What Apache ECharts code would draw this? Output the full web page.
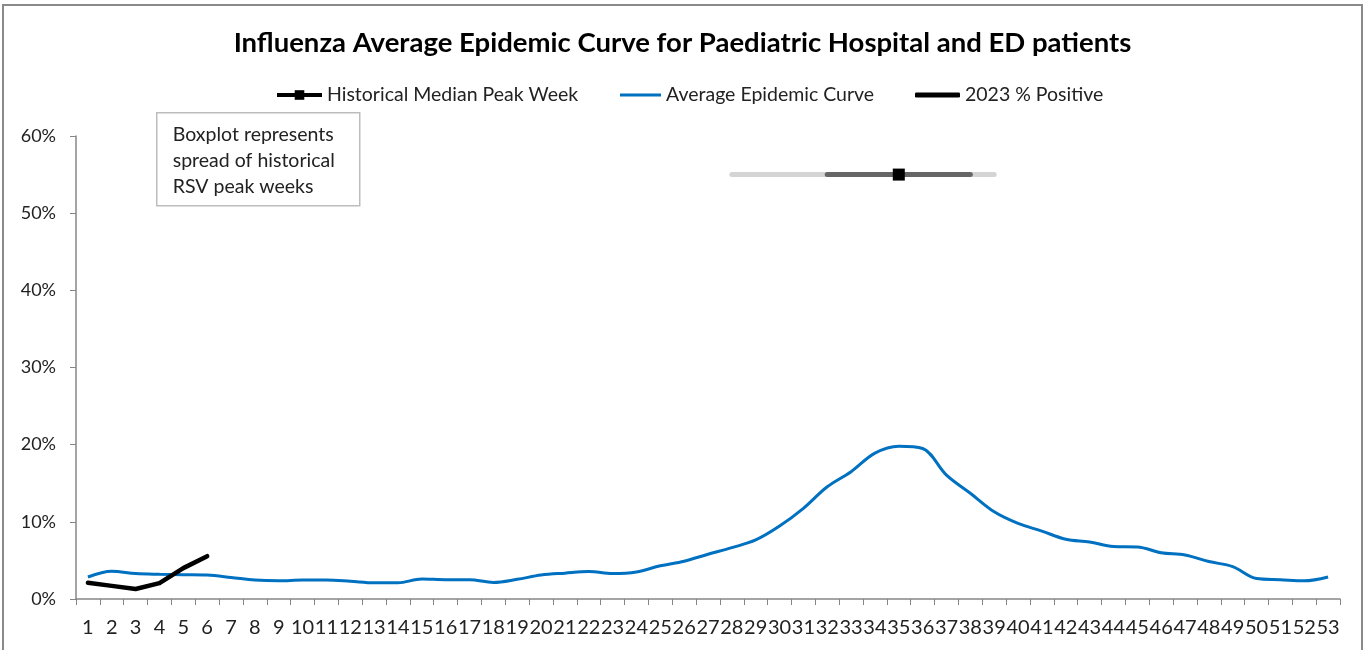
<!DOCTYPE html>
<html>
<head>
<meta charset="utf-8">
<script src="https://cdn.jsdelivr.net/npm/echarts@6/dist/echarts.min.js"></script>
<style>
html,body{margin:0;padding:0;background:#fff;}
#chart{width:1365px;height:650px;}
#frame{position:absolute;left:2px;top:4px;width:1361px;height:700px;border:2px solid #8a8a8a;pointer-events:none;box-sizing:border-box;}
</style>
</head>
<body>
<div id="chart"></div>
<div id="frame"></div>
<script>
// ---- data ----
const weeks = Array.from({length: 53}, (_, i) => String(i + 1));
const averageCurve = [2.85, 3.6, 3.3, 3.2, 3.15, 3.1, 2.8, 2.45, 2.35, 2.45, 2.45, 2.3, 2.1, 2.1, 2.6, 2.5, 2.5,
  2.15, 2.55, 3.1, 3.35, 3.55, 3.3, 3.5, 4.3, 4.9, 5.8, 6.65, 7.65, 9.45, 11.75, 14.55, 16.5, 18.9, 19.8,
  19.5, 16.05, 13.7, 11.3, 9.8, 8.8, 7.75, 7.4, 6.8, 6.75, 6.0, 5.7, 4.85, 4.2, 2.65, 2.5, 2.35, 2.85];
const positive2023 = [2.1, 1.7, 1.3, 2.05, 4.0, 5.55];
const boxLevel = 55;
const whiskerWeeks = ['28', '39'];
const iqrWeeks = ['32', '38'];
const medianWeek = '35';
const yTicks = [0, 10, 20, 30, 40, 50, 60];
const FONT = 'Lato, "Open Sans", sans-serif';
const legendText = {fontFamily: FONT, fontSize: 19.5, color: '#222'};

const chart = echarts.init(document.getElementById('chart'), null, {renderer: 'canvas'});
chart.setOption({
  animation: false,
  backgroundColor: '#fff',
  title: {
    text: 'Influenza Average Epidemic Curve for Paediatric Hospital and ED patients',
    left: 'center', top: 24,
    textStyle: {fontFamily: FONT, fontWeight: 'bold', fontSize: 27.5, color: '#000'}
  },
  legend: [
    {data: [{name: 'Historical Median Peak Week', lineStyle: {width: 4}}], left: 275, top: 85, padding: 0,
     itemWidth: 45, itemHeight: 12, textStyle: legendText},
    {data: [{name: 'Average Epidemic Curve', icon: 'rect'}], left: 620, top: 85, padding: 0,
     itemWidth: 41, itemHeight: 3, textStyle: legendText},
    {data: [{name: '2023 % Positive', icon: 'roundRect'}], left: 915, top: 85, padding: 0,
     itemWidth: 45, itemHeight: 5, textStyle: legendText}
  ],
  grid: {left: 76, right: 25, top: 136, bottom: 51, containLabel: false},
  xAxis: {
    type: 'category', data: weeks, boundaryGap: true,
    axisLine: {lineStyle: {color: '#868686', width: 1.5}},
    axisTick: {show: true, length: 6, lineStyle: {color: '#868686'}},
    axisLabel: {interval: 0, hideOverlap: false, margin: 19, fontFamily: FONT, fontSize: 20, color: '#222'},
    splitLine: {show: false}
  },
  yAxis: {
    type: 'value', min: yTicks[0], max: yTicks[yTicks.length - 1], interval: 10,
    axisLine: {show: true, lineStyle: {color: '#868686', width: 1.5}},
    axisTick: {show: true, length: 6, lineStyle: {color: '#868686'}},
    axisLabel: {formatter: '{value}%', margin: 20, fontFamily: FONT, fontSize: 18, color: '#222'},
    splitLine: {show: false}
  },
  graphic: [{
    type: 'group', left: 156, top: 112,
    children: [
      {type: 'rect', shape: {x: 0, y: 0, width: 203, height: 93},
       style: {fill: '#fff', stroke: '#bdbdbd', lineWidth: 1.5}},
      {type: 'text', x: 16, y: 9,
       style: {text: 'Boxplot represents\nspread of historical\nRSV peak weeks', fontFamily: FONT, fontSize: 19.5,
               lineHeight: 26, fill: '#222'}}
    ]
  }],
  series: [
    {name: 'Whisker', type: 'line', data: whiskerWeeks.map(w => [w, boxLevel]), symbol: 'none',
     lineStyle: {color: '#d4d4d4', width: 5, cap: 'round'}, z: 2, silent: true},
    {name: 'IQR', type: 'line', data: iqrWeeks.map(w => [w, boxLevel]), symbol: 'none',
     lineStyle: {color: '#666666', width: 5, cap: 'round'}, z: 3, silent: true},
    {name: 'Historical Median Peak Week', type: 'line', data: [[medianWeek, boxLevel]],
     symbol: 'rect', symbolSize: 12, itemStyle: {color: '#000'}, lineStyle: {color: '#000', width: 4}, z: 4},
    {name: 'Average Epidemic Curve', type: 'line', data: averageCurve, smooth: 0.35, symbol: 'none',
     lineStyle: {color: '#0070c0', width: 3}, itemStyle: {color: '#0070c0'}, z: 5},
    {name: '2023 % Positive', type: 'line', data: positive2023, smooth: false, symbol: 'none',
     lineStyle: {color: '#000', width: 4.5, cap: 'round', join: 'round'}, itemStyle: {color: '#000'}, z: 6}
  ]
});
</script>
</body>
</html>
